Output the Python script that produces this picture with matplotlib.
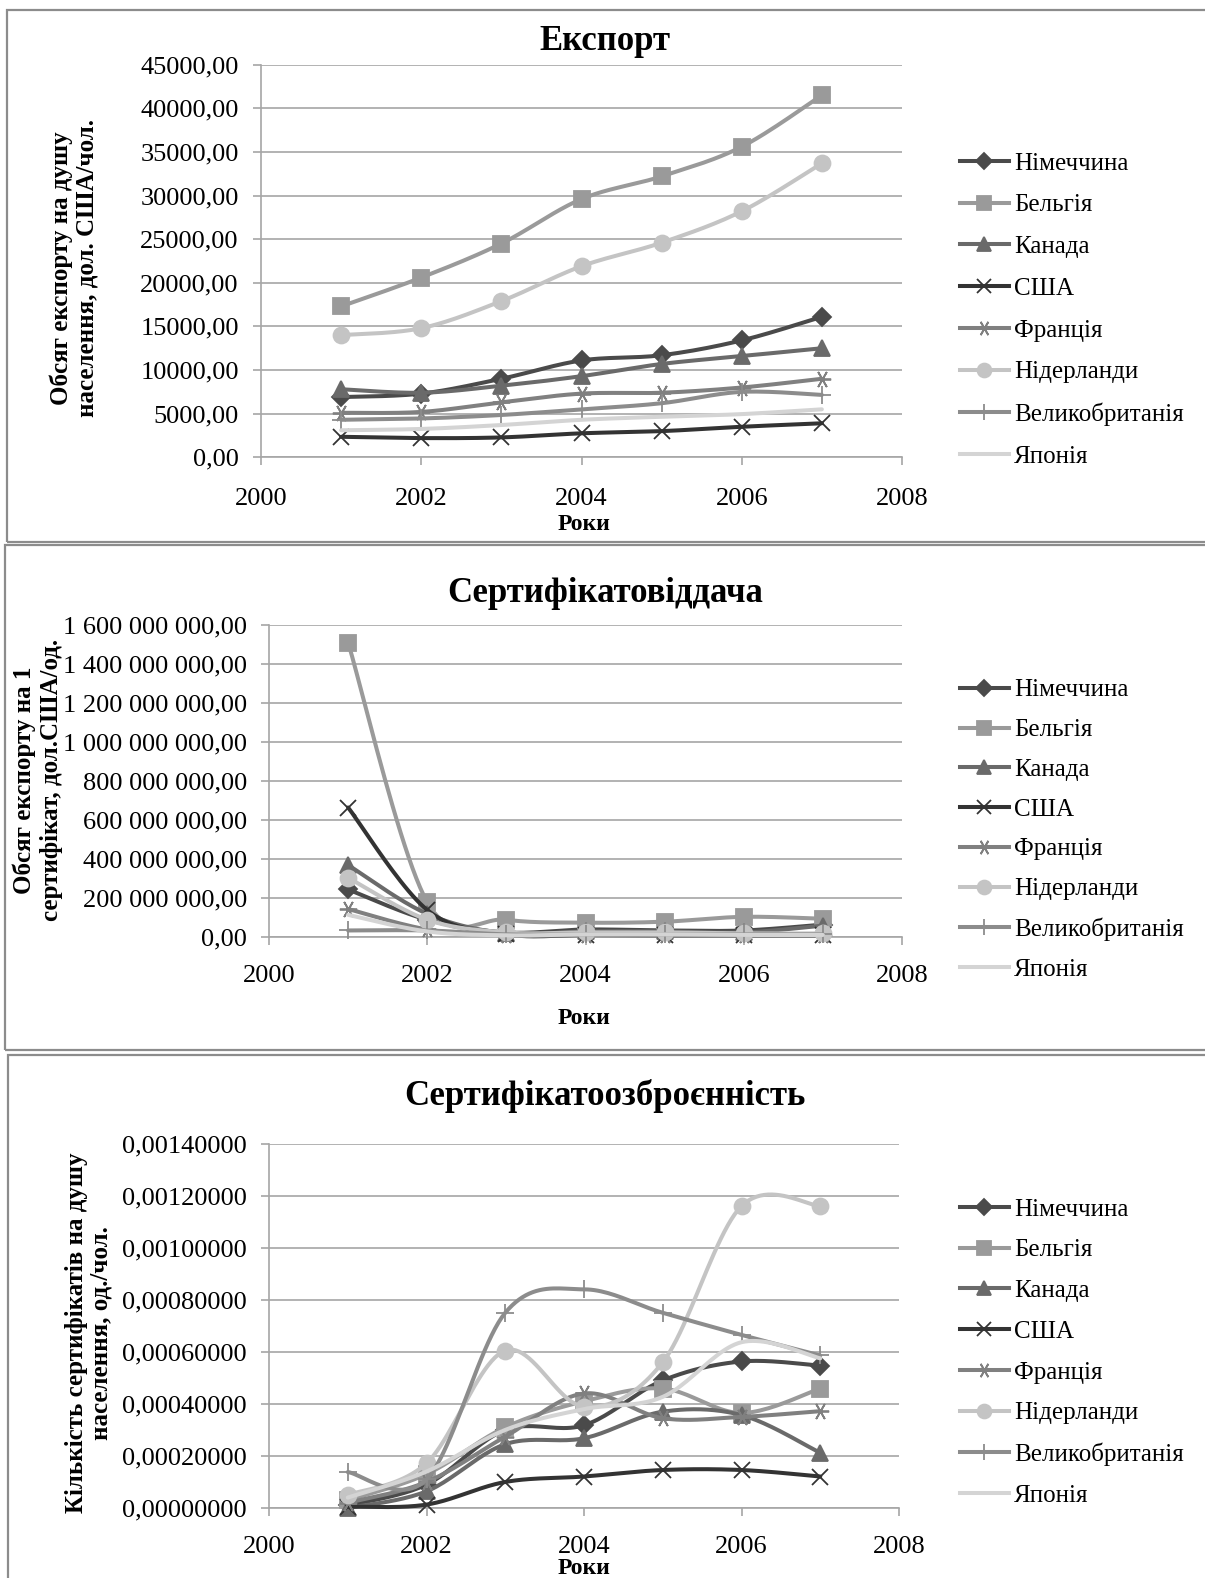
import numpy as np
import matplotlib
matplotlib.use("Agg")
import matplotlib.pyplot as plt
from matplotlib.lines import Line2D
from matplotlib.patches import Rectangle
from matplotlib.ticker import FixedLocator, FuncFormatter

plt.rcParams['font.family'] = ['Liberation Serif', 'DejaVu Serif']

years = [2001, 2002, 2003, 2004, 2005, 2006, 2007]
countries = ["Німеччина", "Бельгія", "Канада", "США", "Франція",
             "Нідерланди", "Великобританія", "Японія"]

# Panel 1: export per capita, USD/person
export_de = [6900, 7300, 9000, 11100, 11700, 13400, 16100]
export_be = [17300, 20600, 24500, 29600, 32200, 35600, 41500]
export_ca = [7800, 7400, 8200, 9300, 10700, 11600, 12500]
export_us = [2350, 2200, 2280, 2750, 3000, 3500, 3900]
export_fr = [5100, 5200, 6300, 7300, 7400, 8000, 9000]
export_nl = [14000, 14800, 17900, 21900, 24600, 28200, 33700]
export_uk = [4300, 4450, 4850, 5500, 6200, 7500, 7150]
export_jp = [3100, 3250, 3700, 4300, 4650, 4950, 5500]

# Panel 2: export per 1 certificate, USD/unit
cert_de = [2.45e8, 9.0e7, 2.5e7, 4.0e7, 3.5e7, 3.5e7, 6.5e7]
cert_be = [1.51e9, 1.80e8, 9.0e7, 7.5e7, 8.0e7, 1.05e8, 9.5e7]
cert_ca = [3.70e8, 1.20e8, 2.0e7, 3.0e7, 3.0e7, 2.5e7, 6.0e7]
cert_us = [6.65e8, 1.40e8, 1.5e7, 1.2e7, 1.0e7, 1.0e7, 1.0e7]
cert_fr = [1.45e8, 4.0e7, 1.0e7, 1.0e7, 1.0e7, 1.0e7, 1.0e7]
cert_nl = [3.05e8, 9.0e7, 2.5e7, 2.5e7, 2.5e7, 2.0e7, 2.0e7]
cert_uk = [3.5e7, 3.5e7, 1.5e7, 1.5e7, 1.5e7, 1.5e7, 1.5e7]
cert_jp = [1.15e8, 3.0e7, 1.0e7, 1.5e7, 1.5e7, 1.2e7, 1.2e7]

# Panel 3: certificates per capita, units/person
arm_de = [0.00001, 0.00009, 0.000300, 0.000318, 0.000490, 0.000563, 0.000547]
arm_be = [0.00003, 0.00013, 0.000310, 0.000410, 0.000459, 0.000365, 0.000459]
arm_ca = [0.00000, 0.000064, 0.000245, 0.000268, 0.000370, 0.000357, 0.000212]
arm_us = [0.000005, 0.000013, 0.000100, 0.000121, 0.000146, 0.000146, 0.000121]
arm_fr = [0.00002, 0.00010, 0.000274, 0.000440, 0.000345, 0.000350, 0.000372]
arm_nl = [0.00005, 0.000172, 0.000605, 0.000389, 0.000560, 0.001160, 0.001160]
arm_uk = [0.000138, 0.00011, 0.000750, 0.000840, 0.000750, 0.000665, 0.000586]
arm_jp = [0.00004, 0.00014, 0.000300, 0.000380, 0.000427, 0.000637, 0.000575]

colors = ['#4a4a4a', '#9a9a9a', '#6a6a6a', '#333333', '#808080',
          '#c4c4c4', '#8c8c8c', '#d4d4d4']
markers = ['D', 's', '^', 'x', (6, 2, 90), 'o', '+', None]
msizes = [9.5, 11.5, 11.5, 11.5, 12.5, 11.5, 12.5, 0]
leg_msizes = [8, 10, 10, 10, 11, 10, 11, 0]


def smooth(x, y, n=24):
    x = np.asarray(x, float)
    y = np.asarray(y, float)
    P = np.column_stack([x, y])
    out = []
    t = np.linspace(0, 1, n)[:, None]
    for i in range(len(P) - 1):
        p0 = P[i - 1] if i > 0 else P[i]
        p1 = P[i]
        p2 = P[i + 1]
        p3 = P[i + 2] if i + 2 < len(P) else P[i + 1]
        c1 = p1 + (p2 - p0) / 6.0
        c2 = p2 - (p3 - p1) / 6.0
        seg = ((1 - t) ** 3) * p1 + 3 * ((1 - t) ** 2) * t * c1 + \
            3 * (1 - t) * t ** 2 * c2 + t ** 3 * p2
        out.append(seg if i == 0 else seg[1:])
    s = np.vstack(out)
    return s[:, 0], s[:, 1]


W, H = 1205, 1578
fig = plt.figure(figsize=(W / 100, H / 100), dpi=100)
fig.patch.set_facecolor('white')


def fx(px):
    return px / W


def fy(py):
    return 1 - py / H


# panel frames
for (x0, y0, y1) in [(7, 10, 542), (5, 545, 1050), (8, 1055, 1590)]:
    fig.add_artist(Rectangle((fx(x0), fy(y1)), fx(1230 - x0), (y1 - y0) / H,
                             transform=fig.transFigure, fill=False,
                             edgecolor='#8c8c8c', lw=1.6, clip_on=False))

grid_c = '#a6a6a6'


def make_panel(axpx, data, ymax, ystep, fmt, title, title_y, ylabel,
               ylabel_x, ylabel_y, xlabel_y, xpad, leg_top, leg_sp, yl_ls):
    l, r, t, b = axpx
    ax = fig.add_axes([fx(l), fy(b), (r - l) / W, (b - t) / H])
    ax.set_xlim(2000, 2008)
    ax.set_ylim(0, ymax)
    ax.yaxis.set_major_locator(FixedLocator(np.arange(0, ymax + ystep / 2, ystep)))
    ax.xaxis.set_major_locator(FixedLocator([2000, 2002, 2004, 2006, 2008]))
    ax.yaxis.set_major_formatter(FuncFormatter(fmt))
    ax.grid(axis='y', color=grid_c, lw=1.2)
    ax.set_axisbelow(True)
    for s in ['top', 'right']:
        ax.spines[s].set_visible(False)
    ax.spines['left'].set_color(grid_c)
    ax.spines['bottom'].set_color(grid_c)
    ax.spines['left'].set_linewidth(1.2)
    ax.spines['bottom'].set_linewidth(1.2)
    ax.tick_params(axis='both', colors=grid_c, labelcolor='black',
                   labelsize=19, length=6, width=1.2)
    ax.tick_params(axis='x', pad=xpad)
    ax.tick_params(axis='y', pad=10)
    handles = []
    for i, vals in enumerate(data):
        sx, sy = smooth(years, vals)
        ax.plot(sx, sy, color=colors[i], lw=2.9, solid_capstyle='round',
                zorder=3 + i, clip_on=False)
        if markers[i] is not None:
            ax.plot(years, vals, ls='none', marker=markers[i], ms=msizes[i],
                    color=colors[i], mec=colors[i], mew=1.3, zorder=3 + i,
                    clip_on=False)
        handles.append(Line2D([], [], color=colors[i], lw=2.9,
                              marker=markers[i] if markers[i] else None,
                              ms=leg_msizes[i], mec=colors[i], mew=1.3))
    fig.text(fx(605), fy(title_y), title, ha='center', va='center',
             fontsize=25, fontweight='bold')
    fig.text(fx(ylabel_x), fy(ylabel_y), ylabel, ha='center', va='center',
             rotation=90, fontsize=18, fontweight='bold', linespacing=yl_ls)
    fig.text(fx(584), fy(xlabel_y), "Роки", ha='center', va='center',
             fontsize=17, fontweight='bold')
    ax.legend(handles, countries, loc='upper left',
              bbox_to_anchor=(fx(960), fy(leg_top)),
              bbox_transform=fig.transFigure, frameon=False,
              fontsize=18, handlelength=1.95, handletextpad=0.2,
              labelspacing=leg_sp, borderpad=0, borderaxespad=0)
    return ax


def fmt1(v, p):
    return f"{v:.2f}".replace('.', ',')


def fmt2(v, p):
    s = f"{v:,.2f}"
    return s.replace(',', ' ').replace('.', ',')


def fmt3(v, p):
    return f"{v:.8f}".replace('.', ',')


make_panel((261, 902, 64.7, 457.3),
           [export_de, export_be, export_ca, export_us, export_fr, export_nl,
            export_uk, export_jp],
           45000, 5000, fmt1, "Експорт", 41,
           "Обсяг експорту на душу\nнаселення, дол. США/чол.", 74, 268, 524,
           16, 152, 0.77, 1.1)

make_panel((269, 902, 625, 937.3),
           [cert_de, cert_be, cert_ca, cert_us, cert_fr, cert_nl, cert_uk,
            cert_jp],
           1.6e9, 2e8, fmt2, "Сертифікатовіддача", 593,
           "Обсяг експорту на 1\nсертифікат, дол.США/од.", 38, 780, 1018,
           14, 679, 0.69, 1.25)

make_panel((269, 899, 1143.6, 1508),
           [arm_de, arm_be, arm_ca, arm_us, arm_fr, arm_nl, arm_uk, arm_jp],
           0.0014, 0.0002, fmt3, "Сертифікатоозброєнність", 1096,
           "Кількість сертифікатів на душу\nнаселення, од./чол.", 89, 1333, 1569,
           14, 1198, 0.73, 1.1)

fig.savefig("out.png", dpi=100)
